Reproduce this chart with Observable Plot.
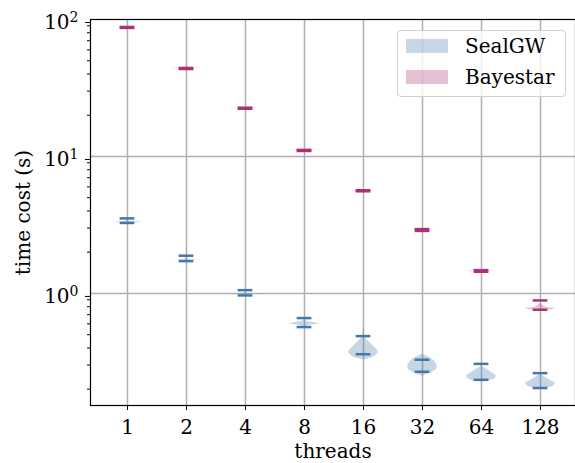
<!DOCTYPE html>
<html>
<head>
<meta charset="utf-8">
<script src="https://cdn.jsdelivr.net/npm/d3@7"></script>
<script src="https://cdn.jsdelivr.net/npm/@observablehq/plot@0.6"></script>
<style>
  html, body { margin: 0; padding: 0; background: white; }
  #wrap { position: relative; width: 575px; height: 463px; font-family: "DejaVu Serif", "Liberation Serif", serif; }
  #wrap svg text { font-family: "DejaVu Serif", "Liberation Serif", serif; }
  #legend { position: absolute; left: 397px; top: 30px; width: 167px; height: 65px;
    border: 1px solid #d0d0d0; border-radius: 4px; background: rgba(255,255,255,0.8); }
  .row { position: absolute; left: 8px; height: 14px; }
  .sw { position: absolute; left: 0; top: 0; width: 42px; height: 14px; }
  .lab { position: absolute; left: 59px; top: -4px; font-size: 20px; line-height: 22px; white-space: nowrap; color: #000; }
</style>
</head>
<body>
<div id="wrap"></div>
<script>
const threads = ["1", "2", "4", "8", "16", "32", "64", "128"];
const seriesNames = ["SealGW", "Bayestar"];
const seriesColors = ["#4477AA", "#AA3377"];

const sealgwMin = [3.27, 1.722, 0.967, 0.568, 0.360, 0.268, 0.234, 0.204];
const sealgwMax = [3.53, 1.886, 1.057, 0.661, 0.488, 0.328, 0.306, 0.262];
const bayestarMin = [86.8, 43.5, 22.3, 10.97, 5.57, 2.86, 1.44, 0.760];
const bayestarMax = [88.2, 44.3, 22.7, 11.17, 5.67, 2.95, 1.48, 0.889];

// violin body profiles: [value, relative half-width]
const sealgwBody = [
  [[3.53,0],[3.36,0.12],[3.33,1],[3.30,0.12],[3.27,0]],
  [[1.886,0],[1.78,0.12],[1.762,1],[1.745,0.12],[1.722,0]],
  [[1.057,0],[0.995,0.12],[0.988,1],[0.98,0.12],[0.967,0]],
  [[0.661,0],[0.64,0.05],[0.62,0.3],[0.60,1],[0.585,0.4],[0.568,0]],
  [[0.614,0],[0.50,0.05],[0.47,0.15],[0.43,0.5],[0.40,0.8],[0.373,1],[0.35,0.8],[0.335,0.4],[0.328,0]],
  [[0.36,0],[0.345,0.4],[0.325,0.75],[0.305,0.95],[0.293,1],[0.28,0.95],[0.268,0.7],[0.258,0.4],[0.249,0]],
  [[0.30,0],[0.29,0.1],[0.275,0.45],[0.26,0.8],[0.248,1],[0.238,0.9],[0.23,0.5],[0.226,0]],
  [[0.258,0],[0.245,0.3],[0.232,0.65],[0.22,1],[0.21,0.85],[0.203,0.4],[0.199,0]]
];
const bayestarBody = [
  [[88.2,0],[87.6,0.12],[87.5,1],[87.4,0.12],[86.8,0]],
  [[44.3,0],[44.0,0.12],[43.9,1],[43.8,0.12],[43.5,0]],
  [[22.7,0],[22.55,0.12],[22.5,1],[22.45,0.12],[22.3,0]],
  [[11.17,0],[11.1,0.12],[11.07,1],[11.04,0.12],[10.97,0]],
  [[5.67,0],[5.64,0.12],[5.62,1],[5.60,0.12],[5.57,0]],
  [[2.95,0],[2.92,0.12],[2.90,1],[2.88,0.12],[2.86,0]],
  [[1.48,0],[1.47,0.12],[1.46,1],[1.45,0.12],[1.44,0]],
  [[0.85,0],[0.82,0.15],[0.79,0.5],[0.775,1],[0.76,0.8],[0.745,0]]
];

const yMajorTicks = [1, 10, 100];
const yMinorTicks = [0.2,0.3,0.4,0.5,0.6,0.7,0.8,0.9, 2,3,4,5,6,7,8,9, 20,30,40,50,60,70,80,90];
const xLabel = "threads";
const yLabel = "time cost (s)";

const positions = threads.map((t, i) => i + 1);
const violinWidth = 0.5;

const bodyRows = [];
[sealgwBody, bayestarBody].forEach((bodies, s) => {
  bodies.forEach((prof, i) => {
    prof.forEach(([v, w]) => bodyRows.push({s, key: s + "-" + i, pos: positions[i], v, w}));
  });
});
const capRows = [];
[[sealgwMin, sealgwMax], [bayestarMin, bayestarMax]].forEach(([mn, mx], s) => {
  positions.forEach((p, i) => {
    capRows.push({s, pos: p, v: mn[i]});
    capRows.push({s, pos: p, v: mx[i]});
  });
});

const plot = Plot.plot({
  width: 575,
  height: 463,
  marginLeft: 90,
  marginRight: 0,
  marginTop: 19,
  marginBottom: 58,
  x: {domain: [0.373, 8.593], axis: null},
  y: {type: "log", domain: [0.152, 100], axis: null},
  style: {fontFamily: "'DejaVu Serif', 'Liberation Serif', serif", fontSize: "20px", background: "white", color: "black"},
  marks: [
    Plot.gridX(positions, {stroke: "#b0b0b0", strokeOpacity: 1, strokeWidth: 1.5}),
    Plot.gridY([1, 10], {stroke: "#b0b0b0", strokeOpacity: 1, strokeWidth: 1.5}),
    Plot.areaX(bodyRows.filter(d => d.s === 0), {
      y: "v", x1: d => d.pos - d.w * violinWidth / 2, x2: d => d.pos + d.w * violinWidth / 2,
      z: "key", fill: seriesColors[0], fillOpacity: 0.3, curve: "monotone-y"
    }),
    Plot.areaX(bodyRows.filter(d => d.s === 1), {
      y: "v", x1: d => d.pos - d.w * violinWidth / 2, x2: d => d.pos + d.w * violinWidth / 2,
      z: "key", fill: seriesColors[1], fillOpacity: 0.3, curve: "monotone-y"
    }),
    Plot.ruleY(capRows, {
      y: "v", x1: d => d.pos - violinWidth / 4, x2: d => d.pos + violinWidth / 4,
      stroke: d => seriesColors[d.s], strokeWidth: 2.5
    }),
    Plot.frame({stroke: "black", strokeWidth: 1.2}),
    Plot.axisX(positions, {tickFormat: d => threads[d - 1], tickSize: 5, tickPadding: 9, fontSize: 20, label: null}),
    Plot.axisY(yMajorTicks, {tickSize: 5, tickPadding: 7, fontSize: 20, dy: 3, label: null,
      tickFormat: d => "10^" + Math.round(Math.log10(d))}),
    Plot.axisY(yMinorTicks, {tickSize: 3, tickFormat: () => "", label: null}),
    Plot.text([yLabel], {frameAnchor: "left", text: d => d, rotate: -90, dx: -67, fontSize: 20, textAnchor: "middle", lineAnchor: "middle"}),
    Plot.text([xLabel], {frameAnchor: "bottom", text: d => d, dy: 46, fontSize: 20, textAnchor: "middle", lineAnchor: "middle"})
  ]
});

// render exponents as raised smaller text
d3.select(plot).selectAll("text").each(function() {
  const t = this.textContent;
  const m = /^10\^(-?\d+)$/.exec(t);
  if (m) {
    const el = d3.select(this);
    el.text(null);
    el.append("tspan").text("10");
    el.append("tspan").attr("dy", "-0.5em").attr("font-size", "14px").text(m[1]);
  }
});

const wrap = document.getElementById("wrap");
wrap.appendChild(plot);

const legend = document.createElement("div");
legend.id = "legend";
seriesNames.forEach((name, i) => {
  const row = document.createElement("div");
  row.className = "row";
  row.style.top = (i === 0 ? 8 : 39) + "px";
  const sw = document.createElement("div");
  sw.className = "sw";
  sw.style.background = seriesColors[i];
  sw.style.opacity = 0.3;
  const lab = document.createElement("div");
  lab.className = "lab";
  lab.textContent = name;
  row.appendChild(sw);
  row.appendChild(lab);
  legend.appendChild(row);
});
wrap.appendChild(legend);
</script>
</body>
</html>
